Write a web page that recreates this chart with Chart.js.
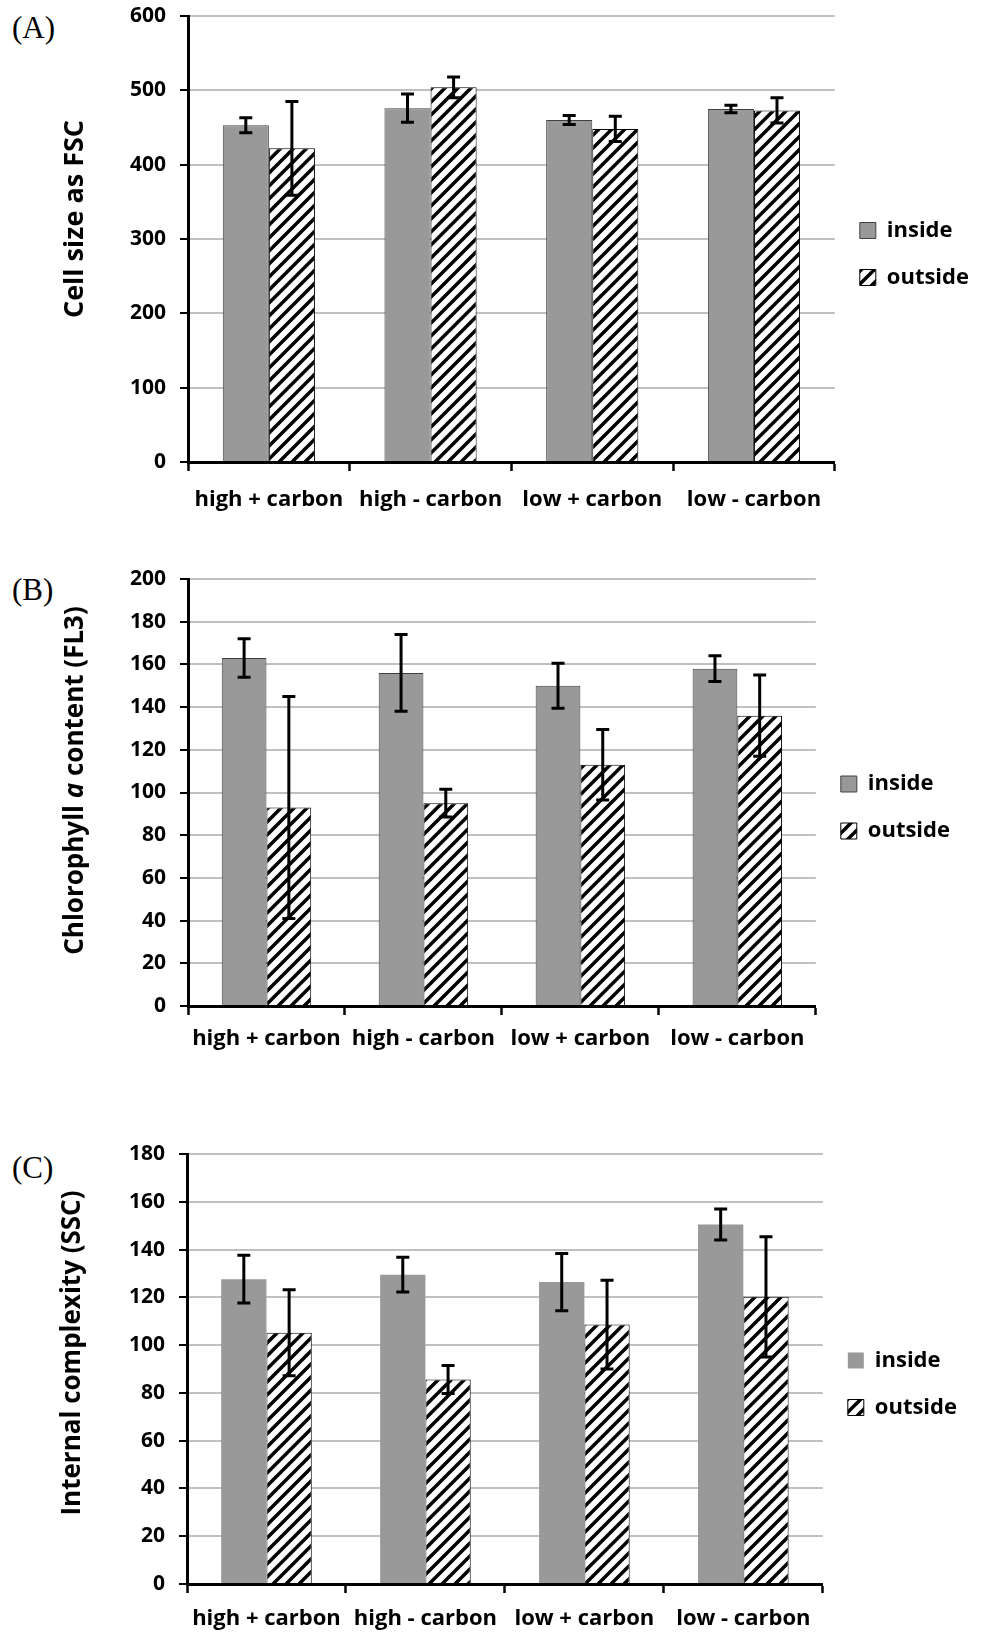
<!DOCTYPE html>
<html>
<head>
<meta charset="utf-8">
<script src="https://cdn.jsdelivr.net/npm/chart.js@4.4.1/dist/chart.umd.min.js"></script>
<style>
  body { margin: 0; background: #fff; width: 988px; height: 1646px; position: relative; overflow: hidden; }
  canvas { position: absolute; left: 0; }
  .tag { position: absolute; left: 12px; font-family: "Liberation Serif", serif; font-size: 31px; line-height: 34px; color: #000; }
</style>
</head>
<body>
<div class="tag" style="top:11px">(A)</div>
<div class="tag" style="top:573px">(B)</div>
<div class="tag" style="top:1151px">(C)</div>
<canvas id="chartA" width="988" height="530" style="top:0"></canvas>
<canvas id="chartB" width="988" height="560" style="top:530px"></canvas>
<canvas id="chartC" width="988" height="556" style="top:1090px"></canvas>
<script>
const categories = ['high + carbon', 'high - carbon', 'low + carbon', 'low - carbon'];
const seriesNames = ['inside', 'outside'];

// (A) cell size as FSC
const sizeInside = [453, 476, 460, 475];
const sizeInsideErr = [10, 19, 6, 5];
const sizeOutside = [422, 504, 448, 473];
const sizeOutsideErr = [63, 14, 17, 17];

// (B) chlorophyll a content
const chlInside = [163, 156, 150, 158];
const chlInsideErr = [9, 18, 10.5, 6];
const chlOutside = [93, 95, 113, 136];
const chlOutsideErr = [52, 6.5, 16.5, 19];

// (C) internal complexity
const sscInside = [127.6, 129.5, 126.4, 150.5];
const sscInsideErr = [10, 7.3, 12, 6.5];
const sscOutside = [105.2, 85.6, 108.6, 120.2];
const sscOutsideErr = [18, 5.9, 18.6, 25.2];

const FONT = '"Open Sans"';
Chart.defaults.font.family = FONT;
Chart.defaults.font.weight = 'bold';
Chart.defaults.color = '#000';

function makeHatch() {
    const size = 13;
    const c = document.createElement('canvas');
    c.width = size;
    c.height = size;
    const g = c.getContext('2d');
    g.fillStyle = '#fff';
    g.fillRect(0, 0, size, size);
    g.strokeStyle = '#000';
    g.lineWidth = 3.5;
    g.beginPath();
    g.moveTo(-3, size + 3); g.lineTo(size + 3, -3);
    g.moveTo(-3, 3); g.lineTo(3, -3);
    g.moveTo(size - 3, size + 3); g.lineTo(size + 3, size - 3);
    g.stroke();
    return g.createPattern(c, 'repeat');
}
const hatch = makeHatch();

const errorBars = {
    id: 'errorBars',
    afterDatasetsDraw(chart) {
        const ctx = chart.ctx;
        const yScale = chart.scales.y;
        ctx.save();
        ctx.strokeStyle = '#000';
        ctx.lineWidth = 3;
        chart.data.datasets.forEach((ds, i) => {
            chart.getDatasetMeta(i).data.forEach((bar, j) => {
                const top = yScale.getPixelForValue(ds.data[j] + ds.errors[j]);
                const bottom = yScale.getPixelForValue(ds.data[j] - ds.errors[j]);
                ctx.beginPath();
                ctx.moveTo(bar.x, top); ctx.lineTo(bar.x, bottom);
                ctx.moveTo(bar.x - 6.5, top); ctx.lineTo(bar.x + 6.5, top);
                ctx.moveTo(bar.x - 6.5, bottom); ctx.lineTo(bar.x + 6.5, bottom);
                ctx.stroke();
            });
        });
        ctx.restore();
    }
};

// rotated y title, allows an italic piece
const axisTitle = {
    id: 'axisTitle',
    afterDraw(chart, args, opts) {
        const {ctx, chartArea} = chart;
        const fontFor = p => (p.italic ? 'italic ' : '') + 'bold ' + opts.size + 'px ' + FONT;
        ctx.save();
        ctx.translate(chartArea.left - opts.offset, (chartArea.top + chartArea.bottom) / 2 - opts.lift);
        ctx.rotate(-Math.PI / 2);
        ctx.fillStyle = '#000';
        ctx.textBaseline = 'middle';
        let total = 0;
        opts.parts.forEach(p => { ctx.font = fontFor(p); total += ctx.measureText(p.text).width; });
        let x = -total / 2;
        opts.parts.forEach(p => {
            ctx.font = fontFor(p);
            ctx.fillText(p.text, x, 0);
            x += ctx.measureText(p.text).width;
        });
        ctx.restore();
    }
};

function makeChart(id, inside, insideErr, outside, outsideErr, yMax, yStep, title, pad, labelPad, insideBorder) {
    return new Chart(document.getElementById(id), {
        type: 'bar',
        data: {
            labels: categories,
            datasets: [
                {
                    label: seriesNames[0],
                    data: inside,
                    errors: insideErr,
                    backgroundColor: '#999999',
                    borderColor: '#404040',
                    borderWidth: insideBorder ? 1 : 0
                },
                {
                    label: seriesNames[1],
                    data: outside,
                    errors: outsideErr,
                    backgroundColor: hatch,
                    borderColor: '#000',
                    borderWidth: 1
                }
            ]
        },
        options: {
            responsive: false,
            animation: false,
            layout: { padding: pad },
            datasets: { bar: { categoryPercentage: 0.57, barPercentage: 1 } },
            plugins: {
                tooltip: { enabled: false },
                legend: {
                    position: 'right',
                    fullSize: false,
                    title: { display: true, text: ' ', padding: { top: 0, bottom: 6 }, font: { size: 20 } },
                    labels: { boxWidth: 16, boxHeight: 16, padding: 25, font: { size: 22, weight: 'bold' }, color: '#000' }
                },
                axisTitle: title
            },
            scales: {
                x: {
                    offset: true,
                    grid: { drawOnChartArea: false, offset: true, tickLength: 9, tickColor: '#000', tickWidth: 2.5 },
                    border: { color: '#000', width: 3 },
                    ticks: { padding: labelPad, font: { size: 22, weight: 'bold' }, color: '#000', maxRotation: 0, autoSkip: false },
                    afterFit(scale) { scale.height = 60; scale.paddingLeft = 0; scale.paddingRight = 0; }
                },
                y: {
                    min: 0,
                    max: yMax,
                    ticks: { stepSize: yStep, padding: 14, font: { size: 21, weight: 'bold' }, color: '#000' },
                    grid: { color: '#c0c0c0', lineWidth: 2, tickLength: 8, tickColor: '#000', tickWidth: 2 },
                    border: { color: '#000', width: 3 },
                    afterFit(scale) { scale.width = 60; scale.paddingTop = 0; scale.paddingBottom = 0; }
                }
            }
        },
        plugins: [errorBars, axisTitle]
    });
}

makeChart('chartA', sizeInside, sizeInsideErr, sizeOutside, sizeOutsideErr, 600, 100,
    { parts: [{ text: 'Cell size as FSC' }], size: 27, offset: 113, lift: 20 },
    { top: 16, bottom: 8, left: 128, right: 9 }, 16, true);
makeChart('chartB', chlInside, chlInsideErr, chlOutside, chlOutsideErr, 200, 20,
    { parts: [{ text: 'Chlorophyll ' }, { text: 'a', italic: true }, { text: ' content (FL3)' }], size: 26, offset: 112, lift: 12 },
    { top: 49, bottom: 24, left: 128, right: 28 }, 11, true);
makeChart('chartC', sscInside, sscInsideErr, sscOutside, sscOutsideErr, 180, 20,
    { parts: [{ text: 'Internal complexity (SSC)' }], size: 26, offset: 114, lift: 16 },
    { top: 64, bottom: 2, left: 127, right: 21 }, 13, false);
</script>
</body>
</html>
